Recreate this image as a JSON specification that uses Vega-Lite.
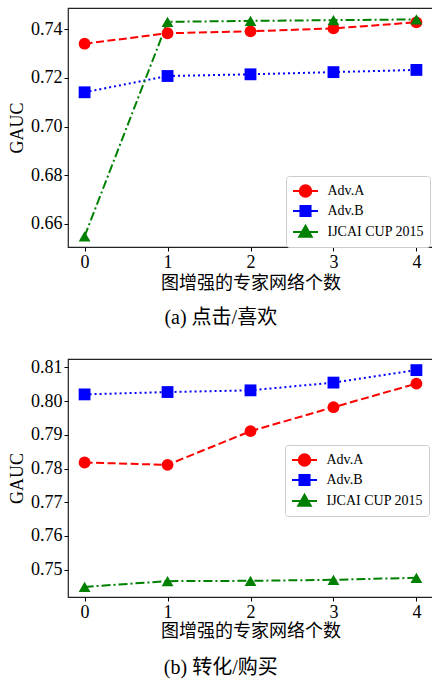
{
  "$schema": "https://vega.github.io/schema/vega-lite/v6.json",
  "padding": {"left": 7, "top": 7, "right": 0, "bottom": 0},
  "background": "white",
  "config": {
    "font": "Liberation Serif",
    "view": {"stroke": "#222", "strokeWidth": 1.2},
    "axis": {"grid": false, "domain": false, "tickColor": "#000", "tickSize": 4, "tickWidth": 1, "labelFont": "Liberation Serif", "labelFontSize": 18, "labelColor": "#000", "labelPadding": 2, "titleFont": "Liberation Serif, Noto Sans CJK SC", "titleFontWeight": "normal", "titleColor": "#000", "titleFontSize": 18},
    "legend": {"labelFont": "Liberation Serif", "labelFontSize": 14, "labelColor": "#000", "padding": 6, "strokeColor": "#cccccc", "fillColor": "white", "cornerRadius": 3, "rowPadding": 0, "labelOffset": 13, "symbolOffset": 4.5, "symbolSize": 256}
  },
  "datasets": {
    "a": [
      {"x": 0, "series": "Adv.A", "y": 0.7341}, {"x": 1, "series": "Adv.A", "y": 0.7384}, {"x": 2, "series": "Adv.A", "y": 0.7392}, {"x": 3, "series": "Adv.A", "y": 0.7404}, {"x": 4, "series": "Adv.A", "y": 0.7429},
      {"x": 0, "series": "Adv.B", "y": 0.7141}, {"x": 1, "series": "Adv.B", "y": 0.7208}, {"x": 2, "series": "Adv.B", "y": 0.7215}, {"x": 3, "series": "Adv.B", "y": 0.7224}, {"x": 4, "series": "Adv.B", "y": 0.7233},
      {"x": 0, "series": "IJCAI CUP 2015", "y": 0.6548}, {"x": 1, "series": "IJCAI CUP 2015", "y": 0.7431}, {"x": 2, "series": "IJCAI CUP 2015", "y": 0.7435}, {"x": 3, "series": "IJCAI CUP 2015", "y": 0.7438}, {"x": 4, "series": "IJCAI CUP 2015", "y": 0.7441}
    ],
    "b": [
      {"x": 0, "series": "Adv.A", "y": 0.7818}, {"x": 1, "series": "Adv.A", "y": 0.7811}, {"x": 2, "series": "Adv.A", "y": 0.7911}, {"x": 3, "series": "Adv.A", "y": 0.7982}, {"x": 4, "series": "Adv.A", "y": 0.8052},
      {"x": 0, "series": "Adv.B", "y": 0.8020}, {"x": 1, "series": "Adv.B", "y": 0.8027}, {"x": 2, "series": "Adv.B", "y": 0.8032}, {"x": 3, "series": "Adv.B", "y": 0.8055}, {"x": 4, "series": "Adv.B", "y": 0.8092},
      {"x": 0, "series": "IJCAI CUP 2015", "y": 0.7449}, {"x": 1, "series": "IJCAI CUP 2015", "y": 0.7466}, {"x": 2, "series": "IJCAI CUP 2015", "y": 0.7467}, {"x": 3, "series": "IJCAI CUP 2015", "y": 0.7470}, {"x": 4, "series": "IJCAI CUP 2015", "y": 0.7476}
    ]
  },
  "resolve": {"scale": {"color": "independent"}, "legend": {"color": "independent"}},
  "spacing": 28,
  "vconcat": [
    {
      "width": 365,
      "height": 239,
      "title": {"text": "(a) 点击/喜欢", "orient": "bottom", "anchor": "middle", "frame": "bounds", "fontSize": 20, "font": "Liberation Serif, Noto Sans CJK SC", "fontWeight": "normal", "offset": 16, "color": "#000"},
      "data": {"name": "a"},
      "encoding": {
        "x": {"field": "x", "type": "quantitative", "scale": {"domain": [-0.2, 4.2], "nice": false, "zero": false}, "axis": {"values": [0, 1, 2, 3, 4], "format": "d", "title": "图增强的专家网络个数", "titlePadding": 3}},
        "y": {"field": "y", "type": "quantitative", "scale": {"domain": [0.6504, 0.7488], "nice": false, "zero": false}, "axis": {"values": [0.66, 0.68, 0.70, 0.72, 0.74], "format": ".2f", "title": "GAUC", "titlePadding": 4}},
        "color": {"field": "series", "type": "nominal", "scale": {"domain": ["Adv.A", "Adv.B", "IJCAI CUP 2015"], "range": ["#ff0000", "#0000ff", "#008000"]},
          "legend": {"title": null, "orient": "none", "legendX": 218, "legendY": 168,
            "encode": {"symbols": {"update": {
              "shape": {"signal": "datum.value === 'Adv.A' ? 'M-1.56,0H1.56M0.72,0A0.72,0.72 0 1,1 -0.72,0A0.72,0.72 0 1,1 0.72,0Z' : datum.value === 'Adv.B' ? 'M-1.56,0H1.56M-0.63,-0.63H0.63V0.63H-0.63Z' : 'M-1.56,0H1.56M0,-0.78L0.78,0.58H-0.78Z'"},
              "fill": {"signal": "datum.value === 'Adv.A' ? '#ff0000' : datum.value === 'Adv.B' ? '#0000ff' : '#008000'"},
              "stroke": {"signal": "datum.value === 'Adv.A' ? '#ff0000' : datum.value === 'Adv.B' ? '#0000ff' : '#008000'"},
              "strokeWidth": {"value": 2},
              "strokeDash": {"value": []},
              "opacity": {"value": 1},
              "size": {"value": 256}
            }}}}}
      },
      "layer": [
        {"transform": [{"filter": "datum.series === 'Adv.A'"}], "mark": {"type": "line", "strokeWidth": 2, "strokeDash": [8, 3.5]}},
        {"transform": [{"filter": "datum.series === 'Adv.B'"}], "mark": {"type": "line", "strokeWidth": 2, "strokeDash": [2, 3]}},
        {"transform": [{"filter": "datum.series === 'IJCAI CUP 2015'"}], "mark": {"type": "line", "strokeWidth": 2, "strokeDash": [9, 3, 2, 3]}},
        {"transform": [{"filter": "datum.series === 'Adv.A'"}], "mark": {"type": "point", "shape": "circle", "filled": true, "opacity": 1, "size": 140}},
        {"transform": [{"filter": "datum.series === 'Adv.B'"}], "mark": {"type": "point", "shape": "square", "filled": true, "opacity": 1, "size": 140}},
        {"transform": [{"filter": "datum.series === 'IJCAI CUP 2015'"}], "mark": {"type": "point", "shape": "triangle-up", "filled": true, "opacity": 1, "size": 140}}
      ]
    },
    {
      "width": 365,
      "height": 238,
      "title": {"text": "(b) 转化/购买", "orient": "bottom", "anchor": "middle", "frame": "bounds", "fontSize": 20, "font": "Liberation Serif, Noto Sans CJK SC", "fontWeight": "normal", "offset": 18, "color": "#000"},
      "data": {"name": "b"},
      "encoding": {
        "x": {"field": "x", "type": "quantitative", "scale": {"domain": [-0.2, 4.2], "nice": false, "zero": false}, "axis": {"values": [0, 1, 2, 3, 4], "format": "d", "title": "图增强的专家网络个数", "titlePadding": 1}},
        "y": {"field": "y", "type": "quantitative", "scale": {"domain": [0.7419, 0.8125], "nice": false, "zero": false}, "axis": {"values": [0.75, 0.76, 0.77, 0.78, 0.79, 0.80, 0.81], "format": ".2f", "title": "GAUC", "titlePadding": 4}},
        "color": {"field": "series", "type": "nominal", "scale": {"domain": ["Adv.A", "Adv.B", "IJCAI CUP 2015"], "range": ["#ff0000", "#0000ff", "#008000"]},
          "legend": {"title": null, "orient": "none", "legendX": 217, "legendY": 86,
            "encode": {"symbols": {"update": {
              "shape": {"signal": "datum.value === 'Adv.A' ? 'M-1.56,0H1.56M0.72,0A0.72,0.72 0 1,1 -0.72,0A0.72,0.72 0 1,1 0.72,0Z' : datum.value === 'Adv.B' ? 'M-1.56,0H1.56M-0.63,-0.63H0.63V0.63H-0.63Z' : 'M-1.56,0H1.56M0,-0.78L0.78,0.58H-0.78Z'"},
              "fill": {"signal": "datum.value === 'Adv.A' ? '#ff0000' : datum.value === 'Adv.B' ? '#0000ff' : '#008000'"},
              "stroke": {"signal": "datum.value === 'Adv.A' ? '#ff0000' : datum.value === 'Adv.B' ? '#0000ff' : '#008000'"},
              "strokeWidth": {"value": 2},
              "strokeDash": {"value": []},
              "opacity": {"value": 1},
              "size": {"value": 256}
            }}}}}
      },
      "layer": [
        {"transform": [{"filter": "datum.series === 'Adv.A'"}], "mark": {"type": "line", "strokeWidth": 2, "strokeDash": [8, 3.5]}},
        {"transform": [{"filter": "datum.series === 'Adv.B'"}], "mark": {"type": "line", "strokeWidth": 2, "strokeDash": [2, 3]}},
        {"transform": [{"filter": "datum.series === 'IJCAI CUP 2015'"}], "mark": {"type": "line", "strokeWidth": 2, "strokeDash": [9, 3, 2, 3]}},
        {"transform": [{"filter": "datum.series === 'Adv.A'"}], "mark": {"type": "point", "shape": "circle", "filled": true, "opacity": 1, "size": 140}},
        {"transform": [{"filter": "datum.series === 'Adv.B'"}], "mark": {"type": "point", "shape": "square", "filled": true, "opacity": 1, "size": 140}},
        {"transform": [{"filter": "datum.series === 'IJCAI CUP 2015'"}], "mark": {"type": "point", "shape": "triangle-up", "filled": true, "opacity": 1, "size": 140}}
      ]
    }
  ]
}
